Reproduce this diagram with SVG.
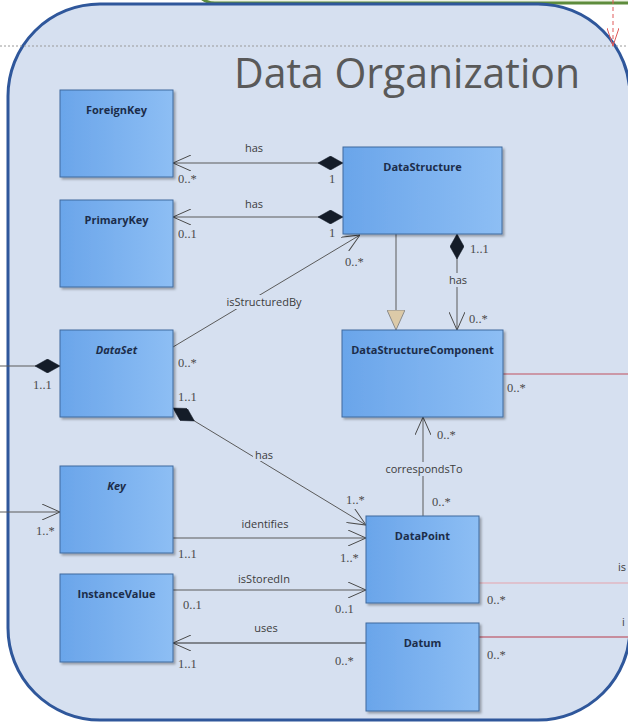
<svg xmlns="http://www.w3.org/2000/svg" width="628" height="728" viewBox="0 0 628 728">
<defs>
<linearGradient id="nodeFill" x1="0" y1="0" x2="1" y2="0">
<stop offset="0" stop-color="#6aa5ea"/>
<stop offset="1" stop-color="#8dbef4"/>
</linearGradient>
<filter id="shadow" x="-10%" y="-10%" width="130%" height="130%">
<feDropShadow dx="2" dy="2" stdDeviation="1.2" flood-color="#000" flood-opacity="0.3"/>
</filter>
<marker id="open" viewBox="0 0 18 16" refX="18" refY="8" markerWidth="18" markerHeight="16" markerUnits="userSpaceOnUse" orient="auto">
<path d="M0,0 L18,8 L0,16" fill="none" stroke="#4a4a4a" stroke-width="1"/>
</marker>
<marker id="openRed" viewBox="0 0 18 12" refX="18" refY="6" markerWidth="18" markerHeight="12" markerUnits="userSpaceOnUse" orient="auto">
<path d="M0,0 L18,6 L0,12" fill="none" stroke="#e05a5a" stroke-width="1"/>
</marker>
<marker id="diamond" viewBox="0 0 25 14" refX="0" refY="7" markerWidth="25" markerHeight="14" markerUnits="userSpaceOnUse" orient="auto">
<path d="M0,7 L12.5,0 L25,7 L12.5,14 Z" fill="#141c28" stroke="#141c28" stroke-width="0.5"/>
</marker>
<marker id="tri" viewBox="0 0 20 18" refX="20" refY="9" markerWidth="20" markerHeight="18" markerUnits="userSpaceOnUse" orient="auto">
<path d="M0,0 L20,9 L0,18 Z" fill="#dccaa8" stroke="#8a8a8a" stroke-width="1"/>
</marker>
</defs>
<style>
.node rect { fill: url(#nodeFill); stroke: #3f6a9e; stroke-width: 1; filter: url(#shadow); }
.node text { font-family: "Open Sans", "DejaVu Sans", sans-serif; font-weight: bold; font-size: 11px; fill: #1c2d4a; text-anchor: middle; }
.node text.abs { font-style: italic; }
.conn { fill: none; stroke-width: 1; }
.gray { stroke: #5a5a5a; }
.dark { stroke: #2a2a2a; }
.red { stroke: #c0505e; }
.pink { stroke: #e6a3ac; }
.dred { stroke: #b83a4a; }
.lbl { font-family: "Open Sans", "Liberation Sans", sans-serif; font-size: 11px; fill: #3c3c3c; text-anchor: middle; }
.lbl.start { text-anchor: start; }
.mult { font-family: "Liberation Serif", serif; font-size: 12.5px; fill: #4a4a4a; }
.lblbg { fill: #d6e0f0; }
</style>

<rect x="0" y="0" width="628" height="728" fill="#ffffff"/>
<!-- upper green package edge -->
<rect x="193" y="-60" width="520" height="63" rx="22" fill="#eef3e4" stroke="#5e8c3c" stroke-width="3"/>
<!-- container -->
<rect id="package" x="8" y="4" width="622" height="716" rx="92" fill="#d6e0f0" stroke="#2f579b" stroke-width="3"/>
<!-- page break dotted line -->
<line x1="0" y1="46" x2="628" y2="46" stroke="#9a9a9a" stroke-width="1" stroke-dasharray="2,2"/>
<!-- red dashed dependency -->
<path d="M613,0 L613,46" fill="none" stroke="#e05a5a" stroke-width="1" stroke-dasharray="4,3" marker-end="url(#openRed)"/>

<text x="407" y="88" font-family="'Open Sans', 'Liberation Sans', sans-serif" font-size="42" fill="#595959" text-anchor="middle" textLength="346" lengthAdjust="spacingAndGlyphs">Data Organization</text>

<g id="connectors">
<path class="conn gray" d="M343,163 L173,163" marker-start="url(#diamond)" marker-end="url(#open)"/>
<path class="conn gray" d="M343,217 L173,217" marker-start="url(#diamond)" marker-end="url(#open)"/>
<path class="conn gray" d="M173,347 L360,235" marker-end="url(#open)"/>
<path class="conn gray" d="M396,234 L396,330" marker-end="url(#tri)"/>
<path class="conn gray" d="M457,234 L457,330" marker-start="url(#diamond)" marker-end="url(#open)"/>
<path class="conn gray" d="M423,516 L423,417" marker-end="url(#open)"/>
<path class="conn gray" d="M173,408 L366,525" marker-start="url(#diamond)" marker-end="url(#open)"/>
<path class="conn gray" d="M173,538 L366,538" marker-end="url(#open)"/>
<path class="conn gray" d="M173,590 L366,590" marker-end="url(#open)"/>
<path class="conn dark" d="M366,643 L173,643" marker-end="url(#open)"/>
<path class="conn red" d="M503,374 L628,374"/>
<path class="conn pink" d="M479,583 L628,583"/>
<path class="conn dred" d="M479,637 L628,637"/>
<path class="conn gray" d="M60,366 L0,366" marker-start="url(#diamond)"/>
<path class="conn gray" d="M0,512 L60,512" marker-end="url(#open)"/>

<rect class="lblbg" x="222" y="295" width="85" height="14"/>
<rect class="lblbg" x="446" y="273" width="24" height="14"/>
<rect class="lblbg" x="381" y="462" width="86" height="14"/>
<rect class="lblbg" x="253" y="448" width="21" height="13"/>

<text class="lbl" x="254" y="152">has</text>
<text class="lbl" x="254" y="208">has</text>
<text class="lbl" x="264" y="306">isStructuredBy</text>
<text class="lbl" x="458" y="284">has</text>
<text class="lbl" x="424" y="473">correspondsTo</text>
<text class="lbl" x="264" y="459">has</text>
<text class="lbl" x="265" y="528">identifies</text>
<text class="lbl" x="264" y="583">isStoredIn</text>
<text class="lbl" x="266" y="632">uses</text>
<text class="lbl start" x="618" y="571">is</text>
<text class="lbl start" x="622" y="626">i</text>

<text class="mult" x="178" y="183">0..*</text>
<text class="mult" x="329" y="183">1</text>
<text class="mult" x="178" y="238">0..1</text>
<text class="mult" x="329" y="237">1</text>
<text class="mult" x="345" y="266">0..*</text>
<text class="mult" x="178" y="367">0..*</text>
<text class="mult" x="178" y="401">1..1</text>
<text class="mult" x="470" y="253">1..1</text>
<text class="mult" x="469" y="323">0..*</text>
<text class="mult" x="507" y="392">0..*</text>
<text class="mult" x="437" y="439">0..*</text>
<text class="mult" x="432" y="506">0..*</text>
<text class="mult" x="346" y="504">1..*</text>
<text class="mult" x="340" y="562">1..*</text>
<text class="mult" x="178" y="558">1..1</text>
<text class="mult" x="183" y="609">0..1</text>
<text class="mult" x="335" y="613">0..1</text>
<text class="mult" x="178" y="668">1..1</text>
<text class="mult" x="335" y="665">0..*</text>
<text class="mult" x="487" y="604">0..*</text>
<text class="mult" x="487" y="659">0..*</text>
<text class="mult" x="33" y="389">1..1</text>
<text class="mult" x="36" y="535">1..*</text>
</g>

<g id="ForeignKey" class="node"><rect x="60" y="90" width="113" height="87"/><text x="116.5" y="114">ForeignKey</text></g>
<g id="PrimaryKey" class="node"><rect x="60" y="200" width="113" height="87"/><text x="116.5" y="224">PrimaryKey</text></g>
<g id="DataStructure" class="node"><rect x="343" y="147" width="159" height="87"/><text x="422.5" y="171">DataStructure</text></g>
<g id="DataSet" class="node"><rect x="60" y="330" width="113" height="87"/><text class="abs" x="116.5" y="354">DataSet</text></g>
<g id="DataStructureComponent" class="node"><rect x="342" y="330" width="161" height="87"/><text x="422.5" y="354">DataStructureComponent</text></g>
<g id="Key" class="node"><rect x="60" y="466" width="113" height="87"/><text class="abs" x="116.5" y="490">Key</text></g>
<g id="InstanceValue" class="node"><rect x="60" y="574" width="113" height="88"/><text x="116.5" y="598">InstanceValue</text></g>
<g id="DataPoint" class="node"><rect x="366" y="516" width="113" height="87"/><text x="422.5" y="540">DataPoint</text></g>
<g id="Datum" class="node"><rect x="366" y="623" width="113" height="88"/><text x="422.5" y="647">Datum</text></g>
</svg>
